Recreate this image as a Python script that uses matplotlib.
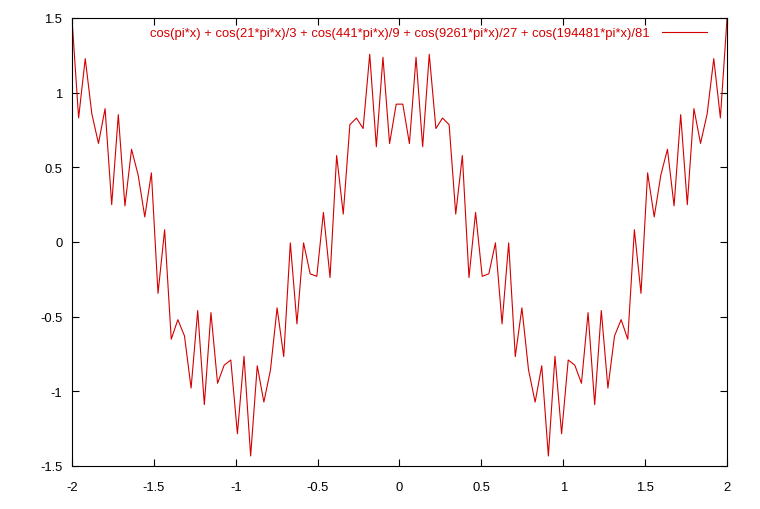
import numpy as np
import matplotlib
matplotlib.use('Agg')
import matplotlib.pyplot as plt

plt.rcParams['font.family'] = ['Liberation Sans', 'DejaVu Sans']
plt.rcParams['axes.unicode_minus'] = False

# gnuplot sampling: 100 samples over [-2, 2]
x_min, x_max, n_samples = -2.0, 2.0, 100

# y values, left half then right half (curve is even)
y_left = [1.494, 0.831, 1.228, 0.858, 0.660, 0.893, 0.250, 0.853, 0.242, 0.621,
          0.448, 0.168, 0.463, -0.344, 0.082, -0.651, -0.520, -0.629, -0.978, -0.459,
          -1.089, -0.473, -0.946, -0.825, -0.790, -1.284, -0.765, -1.433, -0.829, -1.072,
          -0.856, -0.441, -0.767, -0.006, -0.548, -0.006, -0.213, -0.230, 0.198, -0.238,
          0.579, 0.187, 0.786, 0.830, 0.760, 1.257, 0.638, 1.237, 0.659, 0.923]
y_right = [0.923, 0.659, 1.237, 0.638, 1.257, 0.760, 0.830, 0.786, 0.187, 0.579,
           -0.238, 0.198, -0.230, -0.213, -0.006, -0.548, -0.006, -0.767, -0.441, -0.856,
           -1.072, -0.829, -1.433, -0.765, -1.284, -0.790, -0.825, -0.946, -0.473, -1.089,
           -0.459, -0.978, -0.629, -0.520, -0.651, 0.082, -0.344, 0.463, 0.168, 0.448,
           0.621, 0.242, 0.853, 0.250, 0.893, 0.660, 0.858, 1.228, 0.831, 1.494]

x_ticks = [-2, -1.5, -1, -0.5, 0, 0.5, 1, 1.5, 2]
x_tick_labels = ['-2', '-1.5', '-1', '-0.5', '0', '0.5', '1', '1.5', '2']
y_ticks = [-1.5, -1, -0.5, 0, 0.5, 1, 1.5]
y_tick_labels = ['-1.5', '-1', '-0.5', '0', '0.5', '1', '1.5']

label = 'cos(pi*x) + cos(21*pi*x)/3 + cos(441*pi*x)/9 + cos(9261*pi*x)/27 + cos(194481*pi*x)/81'
red = '#d40000'

W, H = 760, 510
fig = plt.figure(figsize=(W / 100, H / 100), dpi=100)
ax = fig.add_axes([72 / W, 1 - 467 / H, (727 - 72) / W, (467 - 19) / H])

xs = np.linspace(x_min, x_max, n_samples)
ys = y_left + y_right
ax.plot(xs, ys, color=red, lw=0.8, label=label)

ax.set_xlim(x_min, x_max)
ax.set_ylim(-1.5, 1.5)
ax.set_xticks(x_ticks)
ax.set_xticklabels(x_tick_labels)
ax.set_yticks(y_ticks)
ax.set_yticklabels(y_tick_labels)
ax.tick_params(direction='in', length=5, width=0.8, labelsize=9.4,
               top=True, right=True, colors='black')
ax.tick_params(axis='x', pad=11)
ax.tick_params(axis='y', pad=7)
for s in ax.spines.values():
	s.set_linewidth(0.8)

leg = ax.legend(loc='upper right', bbox_to_anchor=(707 / W, 1 - 28 / H),
                bbox_transform=fig.transFigure, frameon=False, markerfirst=False,
                fontsize=9.4, handlelength=3.45, handletextpad=0.92,
                borderpad=0, borderaxespad=0, labelcolor=red)

fig.savefig('out.png', dpi=100)
